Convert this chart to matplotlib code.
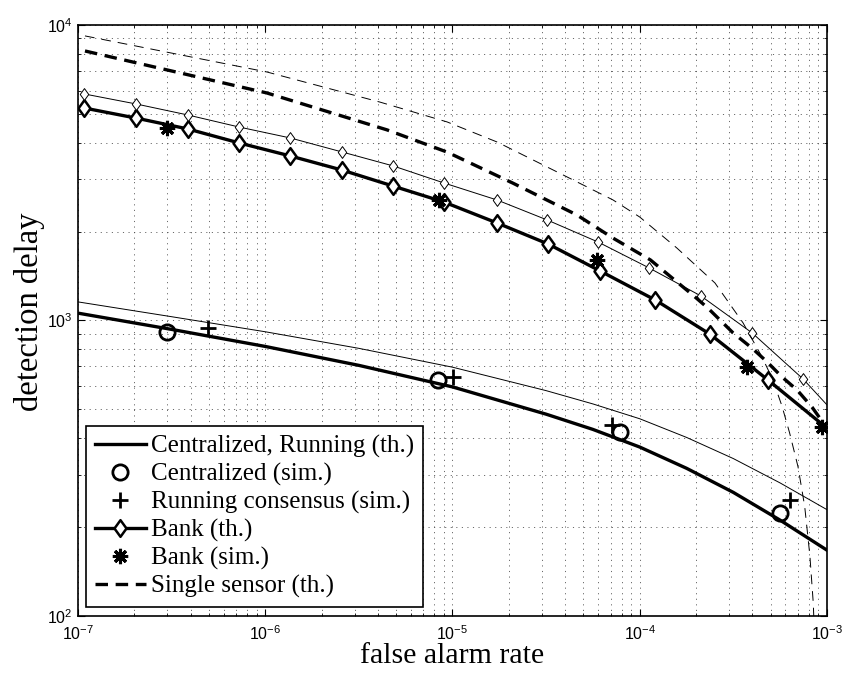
import matplotlib
matplotlib.use('Agg')
import matplotlib.pyplot as plt
from matplotlib.path import Path
from matplotlib.ticker import LogLocator, NullFormatter

plt.rcParams['font.family'] = 'Liberation Sans'
plt.rcParams['lines.scale_dashes'] = False

# theory curves (false alarm rate, detection delay)
cent_x = [1e-7, 3.16e-7, 1e-6, 3.16e-6, 1e-5, 3.16e-5, 5.62e-5, 1e-4, 1.78e-4, 3.16e-4, 5.62e-4, 1e-3]
cent_y = [1059, 933, 817, 705, 596, 482, 428, 373, 316, 262, 211, 167]

cent2_x = [1e-7, 3.16e-7, 1e-6, 3.16e-6, 1e-5, 3.16e-5, 5.62e-5, 1e-4, 1.78e-4, 3.16e-4, 5.62e-4, 1e-3]
cent2_y = [1156, 1030, 916, 805, 695, 579, 522, 465, 402, 341, 282, 229]

bank_x = [1.08e-7, 2.04e-7, 3.87e-7, 7.24e-7, 1.36e-6, 2.57e-6, 4.81e-6, 9.0e-6,
          1.73e-5, 3.24e-5, 6.14e-5, 1.21e-4, 2.37e-4, 4.84e-4, 1e-3]
bank_y = [5236, 4842, 4446, 3990, 3604, 3229, 2851, 2517, 2138, 1815, 1471, 1173, 899, 629, 432]

bank2_x = [1.08e-7, 2.04e-7, 3.87e-7, 7.24e-7, 1.36e-6, 2.57e-6, 4.81e-6, 9.0e-6,
           1.73e-5, 3.2e-5, 5.98e-5, 1.12e-4, 2.12e-4, 3.98e-4, 7.45e-4, 1e-3]
bank2_y = [5843, 5405, 4958, 4516, 4147, 3718, 3336, 2920, 2557, 2189, 1844, 1507, 1211, 908, 634, 518]

single_x = [1.09e-7, 1.02e-6, 4.47e-6, 9.35e-6, 2.1e-5, 4.62e-5, 7.19e-5, 1.14e-4, 1.92e-4,
            2.31e-4, 3.15e-4, 3.97e-4, 4.79e-4, 5.75e-4, 6.92e-4, 8.32e-4, 1e-3]
single_y = [8166, 5888, 4416, 3715, 2917, 2275, 1901, 1603, 1219, 1102, 908, 807, 724, 644, 582, 509, 432]

single2_x = [1.09e-7, 1.02e-6, 4.1e-6, 9.35e-6, 1.73e-5, 3.61e-5, 7.19e-5, 1.0e-4, 1.58e-4, 2.52e-4,
             3.56e-4, 4.5e-4, 5.13e-4, 5.75e-4, 6.31e-4, 7.0e-4, 7.6e-4, 8.1e-4, 8.45e-4, 8.6e-4]
single2_y = [9183, 6934, 5483, 4699, 4018, 3184, 2559, 2239, 1758, 1340,
             982, 752, 631, 513, 417, 320, 235, 160, 110, 80]

# simulations
csim_x = [2.99e-7, 8.4e-6, 7.85e-5, 5.6e-4]
csim_y = [914, 630, 420, 223]
rsim_x = [4.94e-7, 1.01e-5, 7.1e-5, 6.34e-4]
rsim_y = [944, 645, 443, 247]
bsim_x = [2.99e-7, 8.5e-6, 5.92e-5, 3.74e-4, 9.4e-4]
bsim_y = [4480, 2559, 1603, 697, 437]

diamond = Path([(0, 1), (0.72, 0), (0, -1), (-0.72, 0), (0, 1)],
               [Path.MOVETO, Path.LINETO, Path.LINETO, Path.LINETO, Path.CLOSEPOLY])
asterisk = (8, 2, 0)
THICK = 2.4
THIN = 0.7

fig = plt.figure(figsize=(8.42, 6.75), dpi=100)
ax = fig.add_axes([0.0926, 0.0874, 0.8896, 0.8756])

ax.plot(cent_x, cent_y, 'k-', lw=THICK, label='Centralized, Running (th.)')
ax.plot(cent2_x, cent2_y, 'k-', lw=THIN)
ax.plot(csim_x, csim_y, 'o', ms=11, mfc='none', mec='k', mew=2, label='Centralized (sim.)')
ax.plot(rsim_x, rsim_y, '+', ms=12, mec='k', mew=2, label='Running consensus (sim.)')
ax.plot(bank_x, bank_y, 'k-', lw=THICK, marker=diamond, ms=12, mfc='white', mec='k', mew=1.8,
        markevery=list(range(len(bank_x) - 1)), label='Bank (th.)')
ax.plot(bank2_x, bank2_y, 'k-', lw=THIN, marker=diamond, ms=8.5, mfc='white', mec='k', mew=0.7,
        markevery=list(range(len(bank2_x) - 1)))
ax.plot(bsim_x, bsim_y, ls='none', marker=asterisk, ms=11, mec='k', mew=2.2, label='Bank (sim.)')
ax.plot(single_x, single_y, 'k', lw=THICK, dashes=(9, 5.5), label='Single sensor (th.)')
ax.plot(single2_x, single2_y, 'k', lw=THIN, dashes=(7, 5))

ax.set_xscale('log')
ax.set_yscale('log')
ax.set_xlim(1e-7, 1e-3)
ax.set_ylim(1e2, 1e4)
ax.xaxis.set_minor_locator(LogLocator(base=10, subs=range(2, 10)))
ax.yaxis.set_minor_locator(LogLocator(base=10, subs=range(2, 10)))
ax.xaxis.set_minor_formatter(NullFormatter())
ax.yaxis.set_minor_formatter(NullFormatter())

ax.grid(True, which='both', color='0.3', linestyle=(0, (0.8, 3.2)), linewidth=0.6)
ax.tick_params(which='both', direction='in', top=True, right=True, labelsize=11.5)
ax.tick_params(which='major', length=5, width=0.8)
ax.tick_params(which='minor', length=2.5, width=0.6)
ax.tick_params(axis='x', pad=6)
ax.tick_params(axis='y', pad=4)
for s in ax.spines.values():
    s.set_linewidth(1.2)

ax.set_xlabel('false alarm rate', family='Liberation Serif', fontsize=21.5, labelpad=0)
ax.set_ylabel('detection delay', family='Liberation Serif', fontsize=23.5, labelpad=1)
ax.yaxis.set_label_coords(-0.044, 0.515)

leg = ax.legend(loc='lower left', bbox_to_anchor=(0.0107, 0.0152), borderaxespad=0,
                prop={'family': 'Liberation Serif', 'size': 18}, handlelength=2.05,
                handletextpad=0.2, labelspacing=0.2, borderpad=0.35, fancybox=False,
                edgecolor='k', framealpha=1)
leg.get_frame().set_linewidth(1.2)

fig.savefig('out.png', dpi=100)
